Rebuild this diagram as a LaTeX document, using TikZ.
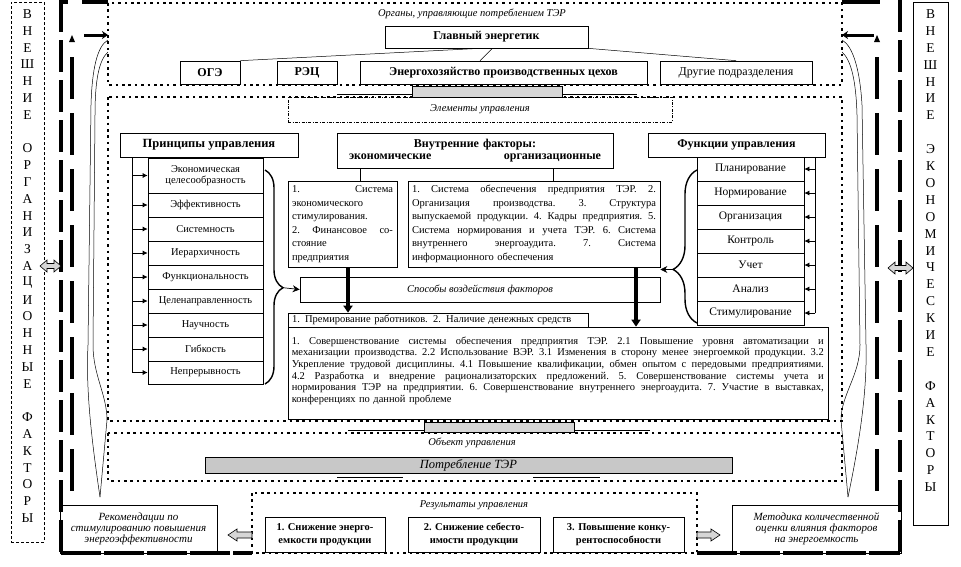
\documentclass[tikz,border=0pt]{standalone}
\usepackage{fontspec}
\setmainfont{Liberation Serif}
\usetikzlibrary{calc,arrows.meta,decorations.pathreplacing}
\definecolor{barA}{RGB}{214,214,214}
\definecolor{barB}{RGB}{200,200,200}
\newcommand\fs[2]{\fontsize{#1}{#2}\selectfont}
\newcommand\J[2]{\leavevmode\hbox to #1pt{\frenchspacing\spaceskip=0.25em plus 1fil\relax #2}}
\begin{document}
\begin{tikzpicture}[x=1pt,y=-1pt,
  bx/.style={draw, line width=0.7pt, inner sep=1pt, align=center},
  hdr/.style={bx, font=\bfseries\fs{12}{13}},
  dotln/.style={line width=2.6pt, dash pattern=on 2.6pt off 3.8pt},
  frm/.style={line width=4pt, dash pattern=on 32pt off 8pt},
  frmin/.style={line width=4pt, dash pattern=on 42pt off 14pt},
  lbl/.style={font=\itshape\fs{10.5}{12}},
  arr/.style={-{Latex[length=5pt,width=5pt]}, line width=0.7pt},
  thk/.style={line width=3.5pt, -{Triangle[length=7pt,width=9pt]}},
  blk/.style={draw, line width=0.6pt, fill=barA},
  thinc/.style={line width=0.5pt},
  side/.style={font=\fs{13.5}{13.5}, inner sep=0}]
\useasboundingbox (0,0) rectangle (961,566);

% ---------- outer frame ----------
\draw[frm] (61,0) -- (61,553);
\draw[frm] (899.5,0) -- (899.5,553);
\draw[line width=4pt] (59,2) -- (68,2);
\draw[line width=4pt] (82,2) -- (108,2);
\draw[line width=4pt] (842,2) -- (880,2);
\draw[line width=3.5pt, dash pattern=on 40pt off 3pt] (61,553) -- (252,553);
\draw[line width=3.5pt, dash pattern=on 40pt off 3pt] (697,553) -- (899.5,553);
\draw[frmin] (72,57) -- (72,505);
\draw[frmin] (877,57) -- (877,505);
\fill (69,42) -- (72,35) -- (75,42) -- cycle;
\fill (874,42) -- (877,35) -- (880,42) -- cycle;
\draw[line width=3pt, -{Stealth[length=6pt,width=8pt]}] (84,35) -- (108,35);
\draw[line width=3pt, -{Stealth[length=6pt,width=8pt]}] (874,35) -- (842,35);

% thin lens curves
\draw[thinc] (108,40) .. controls (97,46) and (92,70) .. (91,105) -- (88,345) .. controls (86,385) and (90,430) .. (100,497);
\draw[thinc] (108,52) .. controls (99,60) and (95,80) .. (95,115) -- (93,345) .. controls (93,375) and (107,395) .. (107,420) -- (100,497);
\draw[thinc] (842,40) .. controls (853,46) and (860,70) .. (862,105) -- (866,345) .. controls (867,385) and (862,430) .. (848,497);
\draw[thinc] (842,52) .. controls (851,60) and (856,80) .. (857,115) -- (860,345) .. controls (860,375) and (841,395) .. (841,420) -- (848,497);

% ---------- side boxes ----------
\node[draw, line width=0.6pt, dash pattern=on 3pt off 2pt, minimum width=33, minimum height=540, inner sep=0] (lbox) at (27.5,272) {};
\node[draw, line width=0.6pt, minimum width=35, minimum height=523, inner sep=0] (rbox) at (930.5,263.5) {};
\foreach \c [count=\i from 0] in {В,Н,Е,Ш,Н,И,Е,{},О,Р,Г,А,Н,И,З,А,Ц,И,О,Н,Н,Ы,Е,{},Ф,А,К,Т,О,Р,Ы}
  \node[side] (ll\i) at (27.5,{14+\i*16.8}) {\c};
\foreach \c [count=\i from 0] in {В,Н,Е,Ш,Н,И,Е,{},Э,К,О,Н,О,М,И,Ч,Е,С,К,И,Е,{},Ф,А,К,Т,О,Р,Ы}
  \node[side] (rl\i) at (930.5,{14+\i*16.9}) {\c};

% ---------- dotted boxes ----------
\draw[dotln] (108,3) rectangle (842,85);
\draw[dotln] (108,97) rectangle (842,421);
\draw[dotln] (108,433) rectangle (842,481);
\draw[dotln] (252,493) rectangle (697,553);

% ---------- top ----------
\node[lbl] (lorg) at (472,14) {Органы, управляющие потреблением ТЭР};
\node[hdr, minimum width=203, minimum height=22] (glav) at (486.5,37) {Главный энергетик};
\node[hdr, minimum width=60, minimum height=23] (oge) at (210,72.5) {ОГЭ};
\node[hdr, minimum width=60, minimum height=23] (rec) at (307,72.5) {РЭЦ};
\node[hdr, minimum width=287, minimum height=23] (energ) at (503.5,72.5) {Энергохозяйство производственных цехов};
\node[bx, font=\fs{12}{13}, minimum width=152, minimum height=23] (drug) at (736,72.5) {Другие подразделения};
\draw[thinc] ([xshift=-6.5pt]glav.south) -- (oge.north east);
\draw[thinc] ([xshift=6pt]glav.south) -- ([xshift=-23.5pt]energ.north);
\draw[thinc] (glav.south east) -- (drug.north);

% ---------- elements ----------
\node[draw, line width=0.5pt, dash pattern=on 3pt off 1.5pt on 0.8pt off 1.5pt, minimum width=384, minimum height=25, lbl] (lelem) at (480,109.5) {Элементы управления};

\node[hdr, font=\bfseries\fs{12.5}{13}, minimum width=178, minimum height=24] (princ) at (209,145) {Принципы управления};
\foreach \t/\a/\b [count=\i] in {{Экономическая\\целесообразность}/158/193, Эффективность/193/217, Системность/217/241, Иерархичность/241/265, Функциональность/265/289, Целенаправленность/289/313, Научность/313/337, Гибкость/337/361, Непрерывность/361/384}
  \node[bx, font=\fs{10.5}{11}, minimum width=115, minimum height={\b-\a}, inner sep=0] (p\i) at (205.5,{(\a+\b)/2}) {\t};
\coordinate (pl) at ([xshift=13pt]princ.south west);
\draw[line width=0.7pt] (pl) -- (pl |- p9.west);
\foreach \i in {1,...,9} \draw[arr] (pl |- p\i.west) -- (p\i.west);

\node[hdr, minimum width=177, minimum height=24] (func) at (736.5,145) {Функции управления};
\foreach \t/\a/\b [count=\i] in {Планирование/157/181, Нормирование/181/205, Организация/205/229, Контроль/229/253, Учет/253/277, Анализ/277/301, Стимулирование/301/325}
  \node[bx, font=\fs{11.5}{12}, minimum width=107, minimum height={\b-\a}, inner sep=0] (f\i) at (750.5,{(\a+\b)/2}) {\t};
\coordinate (fr) at ([xshift=-10pt]func.south east);
\draw[line width=0.7pt] (fr) -- (fr |- f7.east);
\foreach \i in {1,...,7} \draw[arr] (fr |- f\i.east) -- (f\i.east);

\node[bx, minimum width=276, minimum height=35, font=\bfseries\fs{12}{12.5}, text width=252] (vnutr) at (475,150.5) {Внутренние факторы:\\ экономические\hfill организационные};
\node[bx, minimum width=109, minimum height=86, text width=101, align=left, font=\fs{10.5}{13.5}] (econ) at (342.5,224) {\J{101}{1. Система}\\экономического\\стимулирования.\\\J{101}{2. Финансовое со-}\\стояние\\предприятия};
\node[bx, minimum width=252, minimum height=86, text width=244, align=left, font=\fs{10.5}{13.5}] (org) at (534,224) {\J{244}{1. Система обеспечения предприятия ТЭР. 2.}\\\J{244}{Организация производства. 3. Структура}\\\J{244}{выпускаемой продукции. 4. Кадры предприятия. 5.}\\\J{244}{Система нормирования и учета ТЭР. 6. Система}\\\J{244}{внутреннего энергоаудита. 7. Система}\\информационного обеспечения};
\draw[thinc] ([xshift=17.5pt]econ.north) -- ([xshift=17.5pt]econ.north |- vnutr.south);
\draw[thinc] ([xshift=19pt]org.north) -- ([xshift=19pt]org.north |- vnutr.south);

\node[bx, minimum width=360, minimum height=25, font=\itshape\fs{10.5}{12}] (sposob) at (480,289.5) {Способы воздействия факторов};
\node[bx, minimum width=300, minimum height=14, inner ysep=0.3pt, text width=292, align=left, font=\fs{10.5}{12}] (prem) at (438,320) {1. Премирование работников. 2. Наличие денежных средств};
\node[bx, minimum width=540, minimum height=92] (big) at (558,373) {};
\node[anchor=north west, inner sep=0, text width=532, align=left, font=\fs{10.5}{11.6}] (bigt) at ($(big.north west)+(4,10)$) {\J{532}{1. Совершенствование системы обеспечения предприятия ТЭР. 2.1 Повышение уровня автоматизации и}\\\J{532}{механизации производства. 2.2 Использование ВЭР. 3.1 Изменения в сторону менее энергоемкой продукции. 3.2}\\\J{532}{Укрепление трудовой дисциплины. 4.1 Повышение квалификации, обмен опытом с передовыми предприятиями.}\\\J{532}{4.2 Разработка и внедрение рационализаторских предложений. 5. Совершенствование системы учета и}\\\J{532}{нормирования ТЭР на предприятии. 6. Совершенствование внутреннего энергоаудита. 7. Участие в выставках,}\\конференциях по данной проблеме};

\draw[thk] ([xshift=5.5pt]econ.south) -- ([xshift=5.5pt]econ.south |- prem.north);
\draw[thk] ([xshift=102pt]org.south) -- ([xshift=102pt]org.south |- big.north);

\draw[line width=1.4pt, decorate, decoration={brace, amplitude=18pt, aspect=0.55}] (265,170) -- (265,384);
\coordinate (pt) at (283,287.7);
\draw[-{Stealth[length=7pt,width=7pt]}, line width=0.7pt] (pt) -- (sposob.west);
\draw[line width=1.4pt, decorate, decoration={brace, amplitude=24pt, aspect=0.35}] (697,323) -- (697,170);
\coordinate (ft) at (673,269.5);
\draw[-{Stealth[length=7pt,width=7pt]}, line width=0.7pt] (ft) -- (ft -| sposob.east);

% ---------- object ----------
\node[lbl] (lobj) at (472,443) {Объект управления};
\node[draw, line width=0.6pt, fill=barB, minimum width=527, minimum height=16, inner sep=0, font=\itshape\fs{12.5}{13}] (potr) at (468.5,465) {Потребление ТЭР};
\draw[thinc] (337,477) -- (403,477);
\draw[thinc] (533,477) -- (600,477);

% gray connector bars
\node[blk, minimum width=150, minimum height=11, inner sep=0] (gb1) at (487,91.5) {};
\draw[thinc] (337,94) -- (gb1.west |- 0,94);
\draw[thinc] (gb1.east |- 0,94) -- (637,94);
\node[blk, minimum width=150, minimum height=10, inner sep=0] (gb2) at (499,427) {};
\draw[thinc] (348,430) -- (gb2.west |- 0,430);
\draw[thinc] (gb2.east |- 0,430) -- (650,430);

% ---------- results ----------
\node[lbl] (lres) at (474,505) {Результаты управления};
\node[bx, minimum width=120, minimum height=35, font=\bfseries\fs{10.5}{12.5}] (r1) at (325,534.5) {1. Снижение энерго-\\емкости продукции};
\node[bx, minimum width=132, minimum height=35, font=\bfseries\fs{10.5}{12.5}] (r2) at (474,534.5) {2. Снижение себесто-\\имости продукции};
\node[bx, minimum width=131, minimum height=35, font=\bfseries\fs{10.5}{12.5}] (r3) at (618.5,534.5) {3. Повышение конку-\\рентоспособности};
\node[bx, minimum width=157, minimum height=48, font=\itshape\fs{11}{11}] (rekom) at (138.5,529) {Рекомендации по\\стимулированию повышения\\энергоэффективности};
\node[bx, minimum width=169, minimum height=48, font=\itshape\fs{11}{11}] (metod) at (816.5,529) {Методика количественной\\оценки влияния факторов\\на энергоемкость};

% block arrows
\draw[blk] (228,535) -- (237,529) -- (237,532) -- (252,532) -- (252,538) -- (237,538) -- (237,541) -- cycle;
\draw[blk] (720,535) -- (711,529) -- (711,532) -- (697,532) -- (697,538) -- (711,538) -- (711,541) -- cycle;
\draw[blk] (40,266) -- (47,260) -- (47,263.5) -- (54,263.5) -- (54,260) -- (61,266) -- (54,272) -- (54,268.5) -- (47,268.5) -- (47,272) -- cycle;
\draw[blk] (888,268) -- (895,262) -- (895,265.5) -- (906,265.5) -- (906,262) -- (913,268) -- (906,274) -- (906,270.5) -- (895,270.5) -- (895,274) -- cycle;
\end{tikzpicture}
\end{document}
